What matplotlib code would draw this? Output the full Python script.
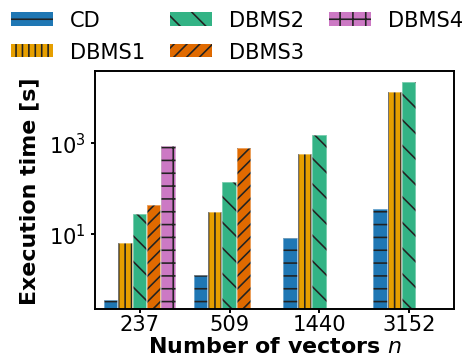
import numpy as np
import matplotlib
matplotlib.use("Agg")
import matplotlib.pyplot as plt

# tempos de execução (em segundos), nan = sem barra
sizes = ["237", "509", "1440", "3152"]
systems = ["CD", "DBMS1", "DBMS2", "DBMS3", "DBMS4"]
cd = [0.36, 1.26, 8.2, 35]
dbms1 = [6.3, 31, 570, 13000]
dbms2 = [27.5, 141, 1520, 22000]
dbms3 = [44, 790, np.nan, np.nan]
dbms4 = [870, np.nan, np.nan, np.nan]
times = [cd, dbms1, dbms2, dbms3, dbms4]

colors = ["#1f77b4", "#e69f00", "#33b385", "#e06a00", "#cc79c4"]
hatches = ["-", "||", "\\", "//", "+"]

DPI = 77.5
plt.rcParams["hatch.linewidth"] = 1.5
plt.rcParams["font.size"] = 19.5

fig = plt.figure(figsize=(466 / DPI, 359 / DPI), dpi=DPI)
ax = fig.add_axes([0.204, 0.1365, 0.770, 0.6638])

x = np.arange(len(sizes))
w = 0.16
for i, vals in enumerate(times):
    pos = x + (i - 2) * w
    # barra com hachura preta
    ax.bar(pos, vals, w, color=colors[i], edgecolor="#222222", linewidth=0,
           hatch=hatches[i], label=systems[i])
    # contorno claro por cima
    ax.bar(pos, vals, w, fill=False, edgecolor=(1, 1, 1, 0.45), linewidth=1.5)

ax.set_yscale("log")
ax.set_ylim(0.225, 38800)
ax.set_xlim(-0.5, 3.5)
ax.set_yticks([10, 1000])
ax.yaxis.set_minor_locator(matplotlib.ticker.NullLocator())
ax.set_xticks(x)
ax.set_xticklabels(sizes)
ax.tick_params(length=3.7, width=1.8)
ax.tick_params(axis="y", pad=4.5)
ax.tick_params(axis="x", pad=1)
for s in ax.spines.values():
    s.set_linewidth(1.8)

ax.set_ylabel("Execution time [s]", fontweight="bold", fontsize=20.5)
ax.set_xlabel("Number of vectors $n$", fontweight="bold", fontsize=20.5)
ax.yaxis.set_label_coords(-0.155, 0.5)
ax.xaxis.set_label_coords(0.5, -0.115)

fig.legend(loc="upper left", bbox_to_anchor=(11 / 466, 0.968), ncol=3,
           frameon=False, borderpad=0, borderaxespad=0, columnspacing=1.2,
           labelspacing=0.55, handletextpad=0.8, handleheight=0.6)

fig.savefig("out.png", dpi=DPI)
